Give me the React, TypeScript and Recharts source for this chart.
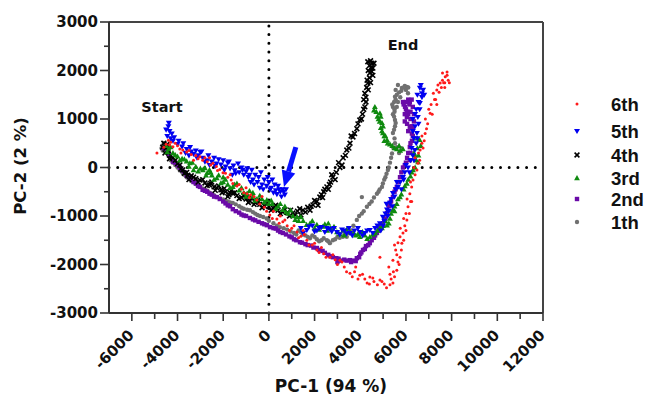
import React from 'react';
import { ScatterChart, Scatter, XAxis, YAxis, ReferenceLine, ReferenceDot } from 'recharts';

type P = [number, number];

// ---- tick values ----
const xTicks = [-6000, -5000, -4000, -3000, -2000, -1000, 0, 1000, 2000, 3000, 4000, 5000, 6000, 7000, 8000, 9000, 10000, 11000, 12000];
const xTickLabels = [-6000, -4000, -2000, 0, 2000, 4000, 6000, 8000, 10000, 12000];
const yTicks = [-3000, -2500, -2000, -1500, -1000, -500, 0, 500, 1000, 1500, 2000, 2500, 3000];
const yTickLabels = [-3000, -2000, -1000, 0, 1000, 2000, 3000];

// ---- series (PC-1, PC-2) ----
const s6th: P[] = [
  [-4900, 300], [-4500, 480], [-4400, 560], [-4300, 520], [-4200, 430], [-4000, 450], [-3900, 380], [-3770, 360],
  [-3600, 320], [-3400, 270], [-3200, 250], [-3020, 220], [-2900, 150], [-2700, 120], [-2450, 90], [-2300, 20],
  [-2150, -40], [-2010, -110], [-1800, -200], [-1580, -330], [-1400, -380], [-1200, -450], [-960, -540], [-800, -560],
  [-530, -670], [-400, -750], [-200, -820], [40, -980], [200, -900], [350, -1060], [610, -1120], [800, -1200],
  [1000, -1250], [1230, -1330], [1400, -1420], [1660, -1500], [1900, -1600], [2100, -1700], [2400, -1780], [2670, -1850],
  [2900, -1900], [3110, -1910], [3300, -2050], [3550, -2180], [3750, -2150], [3980, -2220], [4200, -2300], [4420, -2260],
  [4600, -2350], [4860, -2320], [5050, -2400], [5300, -2420], [5430, -2380], [5500, -2250], [5600, -2120], [5650, -1950],
  [5740, -1850], [5800, -1700], [5820, -1560], [5870, -1350], [5950, -1200], [6040, -1080], [6090, -810], [6000, -950],
  [6170, -540], [6250, -400], [6310, -260], [6480, -50], [6530, 90], [6620, 360], [6700, 500], [6840, 700],
  [6950, 900], [7060, 1120], [7100, 1300], [7200, 1530], [7350, 1600], [7500, 1740], [7600, 1800], [7720, 1870],
  [7800, 1970], [7650, 1750], [7400, 1700], [4860, -1850], [5430, -1910], [5740, -1430], [5300, -2200], [5550, -1700],
  [-3300, 150], [-2600, 200], [-1700, -150], [-1000, -420], [-300, -600], [500, -1000], [1500, -1300], [2300, -1650],
  [3800, -2050], [4400, -2400], [6200, -700], [6400, 200], [6800, 550], [7300, 1400], [7700, 1650],
  [-4600, 420], [-4350, 470], [-4100, 500], [-3850, 300], [-3500, 350], [-3100, 180], [-2800, 200], [-2550, 50],
  [-2250, -60], [-1900, -120], [-1650, -260], [-1300, -350], [-1100, -520], [-850, -620], [-650, -600], [-100, -900],
  [150, -1050], [450, -1150], [700, -1080], [900, -1300], [1100, -1200], [1300, -1450], [1550, -1380], [1750, -1600],
  [2000, -1560], [2200, -1750], [2500, -1850], [2800, -1800], [3000, -2000], [3200, -1950], [3400, -2150], [3650, -2250],
  [3900, -2300], [4100, -2200], [4300, -2380], [4550, -2280], [4750, -2420], [4950, -2350], [5150, -2480], [5350, -2300],
  [5250, -2050], [5450, -2150], [5600, -1800], [5700, -2000], [5500, -1600], [5650, -1550], [5900, -1500], [5750, -1250],
  [6000, -1300], [5900, -1050], [6150, -950], [6050, -650], [6250, -700], [6200, -300], [6400, -150], [6350, 0],
  [6600, 150], [6550, 300], [6750, 400], [6700, 650], [6900, 800], [6850, 1000], [7000, 1200], [7150, 1100],
  [7250, 1400], [7350, 1300], [7450, 1550], [7550, 1650], [7700, 1750], [7850, 1800], [7800, 1900], [7600, 1950],
  [7900, 1750],
];

const s5th: P[] = [
  [-4400, 850], [-4350, 750], [-4450, 650], [-4300, 600], [-4200, 550], [-4000, 480], [-3800, 430], [-3600, 380],
  [-3400, 330], [-3300, 280], [-3100, 250], [-2900, 200], [-2700, 150], [-2500, 120], [-2300, 80], [-2100, 60],
  [-1900, 20], [-1700, -20], [-1500, -60], [-1300, -100], [-1100, -150], [-900, -200], [-700, -250], [-500, -300],
  [-300, -350], [-100, -380], [100, -420], [300, -470], [500, -500], [700, -560],
  [-3500, 250], [-3000, 320], [-2600, 50], [-2200, 170], [-1800, 100], [-1600, -150], [-1200, 0], [-1000, -80],
  [-800, -300], [-600, -150], [-400, -420], [-200, -250], [0, -300], [200, -520], [400, -380], [600, -450],
  [1400, -1250], [1660, -1290], [1900, -1200], [2100, -1300], [2300, -1230], [2540, -1250], [2750, -1320], [2980, -1330],
  [3200, -1280], [3400, -1360], [3550, -1350], [3750, -1300], [3980, -1330], [4200, -1350], [4420, -1290], [4650, -1250],
  [4860, -1150], [4990, -1020], [5100, -950], [5170, -870], [5300, -730], [5350, -650], [5430, -530], [5550, -450],
  [5650, -400], [5750, -300], [5870, -200], [5950, -100], [6090, 0], [6200, 150], [6300, 250], [6390, 360],
  [6450, 500], [6480, 710], [6400, 850], [6520, 1040], [6450, 1200], [6610, 1330], [6700, 1450], [6700, 1530],
  [6610, 1640], [6550, 1350], [6350, 600], [6300, 1000], [5000, -1200], [5250, -900],
  [-4500, 780], [-4380, 920], [-4250, 700], [-4150, 620], [-3950, 550], [-3750, 500], [-3650, 300], [-3450, 420],
  [-3200, 350], [-3150, 200], [-2950, 330], [-2800, 120], [-2650, 250], [-2400, 200], [-2350, 30], [-2000, 150],
  [-1950, -50], [-1750, 120], [-1550, 40], [-1450, -120], [-1350, 80], [-1150, -50], [-950, -20], [-850, -150],
  [-750, -50], [-650, -350], [-450, -200], [-350, -100], [-250, -450], [-50, -200], [50, -450], [150, -250],
  [250, -350], [350, -550], [450, -450], [550, -600], [650, -500], [750, -450],
  [1500, -1350], [1750, -1220], [2000, -1320], [2200, -1250], [2450, -1330], [2650, -1270], [2850, -1250], [3100, -1380],
  [3300, -1300], [3500, -1250], [3650, -1400], [3900, -1250], [4100, -1400], [4300, -1300], [4550, -1350], [4750, -1200],
  [4900, -1300], [5050, -1100], [5200, -1000], [5150, -750], [5400, -800], [5500, -600], [5600, -300], [5800, -450],
  [5900, -250], [6000, 50], [6150, -100], [6250, 400], [6350, 150], [6500, 600], [6300, 750], [6550, 900],
  [6400, 1100], [6600, 1200], [6500, 1500], [6750, 1600], [6650, 1700], [6800, 1500],
];

const s4th: P[] = [
  [-4600, 500], [-4500, 400], [-4550, 300], [-4400, 350], [-4300, 250], [-4100, 150], [-3900, 50], [-3770, -50],
  [-3600, -100], [-3400, -170], [-3200, -230], [-3020, -260], [-2800, -320], [-2600, -360], [-2400, -400], [-2280, -420],
  [-2100, -460], [-1900, -500], [-1700, -520], [-1580, -530], [-1400, -580], [-1200, -620], [-1000, -650], [-830, -690],
  [-600, -720], [-400, -760], [-200, -790], [0, -810], [200, -840], [400, -880], [610, -920], [800, -930],
  [1050, -940], [1250, -900], [1490, -880], [1700, -820], [1930, -770], [2100, -700], [2230, -610], [2400, -500],
  [2540, -400], [2700, -300], [2800, -200], [2950, -100], [3110, 0], [3250, 200], [3410, 360], [3550, 500],
  [3680, 630], [3850, 800], [3980, 980], [4100, 1100], [4200, 1250], [4150, 1400], [4200, 1530], [4280, 1650],
  [4330, 1740], [4400, 1850], [4420, 1950], [4480, 2050], [4510, 2150], [4330, 2180], [4400, 2100], [4550, 1900],
  [-3500, -250], [-2500, -300], [-1800, -600], [-1000, -550], [-500, -680], [300, -780], [900, -1000], [1400, -980],
  [1800, -880], [2300, -560], [2600, -450],
  [-4650, 420], [-4450, 480], [-4350, 180], [-4200, 200], [-4000, 80], [-3850, -30], [-3700, -120], [-3550, -160],
  [-3300, -200], [-3100, -300], [-2900, -250], [-2700, -370], [-2550, -330], [-2350, -470], [-2200, -380], [-2050, -520],
  [-1950, -430], [-1750, -560], [-1650, -470], [-1500, -520], [-1300, -640], [-1100, -580], [-900, -720], [-750, -630],
  [-650, -760], [-450, -700], [-300, -830], [-100, -740], [100, -880], [250, -800], [500, -950], [700, -870],
  [950, -880], [1150, -980], [1350, -850], [1600, -920], [1850, -800], [2000, -680], [2150, -780], [2350, -620],
  [2450, -450], [2650, -350], [2750, -150], [2900, -250], [3050, 100], [3200, 50], [3350, 250], [3500, 400],
  [3600, 650], [3750, 700], [3900, 900], [4050, 1000], [4150, 1200], [4250, 1350], [4250, 1450], [4350, 1600],
  [4300, 1800], [4450, 1750], [4350, 2000], [4550, 2050], [4450, 2200], [4600, 2150], [4500, 1980],
];

const s3rd: P[] = [
  [-4500, 450], [-4400, 380], [-4200, 300], [-4000, 230], [-3800, 180], [-3600, 130], [-3460, 90], [-3200, 20],
  [-3000, -20], [-2890, -50], [-2700, -110], [-2500, -160], [-2280, -220], [-2000, -300], [-1800, -350], [-1580, -400],
  [-1300, -470], [-1100, -520], [-960, -540], [-700, -600], [-530, -650], [-300, -650], [-90, -670], [150, -750],
  [400, -800], [610, -870], [850, -950], [1050, -1000], [1230, -1020], [1500, -1100], [1800, -1150], [2100, -1180],
  [2360, -1220], [2700, -1250], [2980, -1330], [3250, -1300], [3550, -1330], [3800, -1400], [3980, -1430], [4200, -1400],
  [4420, -1430], [4650, -1350], [4860, -1250], [5000, -1200], [5170, -1190], [5300, -1050], [5430, -870], [5600, -750],
  [5740, -610], [5900, -450], [6040, -330], [6200, -180], [6310, -50], [6530, 110], [6400, 250], [6500, 400],
  [6600, 570], [6350, 300],
  [4640, 1250], [4700, 1150], [4860, 1120], [4800, 1000], [4950, 920], [4900, 820], [4990, 710], [5050, 650],
  [5170, 570], [5300, 480], [5500, 400], [5700, 450], [5870, 380],
  [-3300, -50], [-2600, -50], [-2000, -200], [-1400, -330], [-700, -520], [0, -750], [700, -800], [1300, -1100],
  [2000, -1250], [2600, -1150], [3300, -1400], [4100, -1330], [5100, -1100], [5500, -900],
  [-4450, 320], [-4300, 420], [-4100, 260], [-3900, 150], [-3700, 170], [-3500, 20], [-3350, 100], [-3100, -80],
  [-2800, -10], [-2750, -160], [-2550, -100], [-2400, -250], [-2200, -160], [-2100, -320], [-1900, -250], [-1700, -420],
  [-1500, -350], [-1200, -420], [-1000, -600], [-850, -480], [-600, -680], [-400, -580], [-200, -720], [100, -680],
  [300, -850], [500, -750], [750, -920], [950, -880], [1150, -1080], [1400, -1020], [1650, -1180], [1900, -1100],
  [2200, -1280], [2450, -1170], [2550, -1300], [2850, -1220], [3100, -1370], [3400, -1280], [3700, -1350], [3900, -1370],
  [4300, -1470], [4550, -1380], [4750, -1300], [4950, -1250], [5250, -1150], [5350, -950], [5500, -800], [5650, -650],
  [5800, -550], [5950, -380], [6100, -250], [6250, -100], [6400, 0], [6550, 250], [6450, 150], [6650, 450],
  [6500, 600],
  [4600, 1180], [4750, 1050], [4850, 950], [4900, 1050], [5000, 850], [4950, 750], [5100, 650], [5050, 550],
  [5200, 500], [5400, 450], [5600, 380], [5750, 350],
];

const s2nd: P[] = [
  [-4500, 450], [-4400, 300], [-4300, 200], [-4100, 100], [-3900, 0], [-3700, -100], [-3500, -200], [-3300, -300],
  [-3020, -400], [-2800, -480], [-2500, -560], [-2280, -610], [-2000, -700], [-1800, -780], [-1580, -860], [-1300, -930],
  [-1100, -990], [-830, -1040], [-600, -1090], [-300, -1150], [-90, -1190], [200, -1250], [400, -1300], [610, -1350],
  [900, -1420], [1100, -1480], [1360, -1540], [1600, -1580], [1850, -1610], [2100, -1660], [2350, -1720], [2600, -1800],
  [2800, -1850], [3050, -1880], [3300, -1900], [3550, -1910], [3700, -1920], [3850, -1870], [4000, -1780], [4120, -1700],
  [4250, -1620], [4420, -1560], [4600, -1450], [4730, -1350], [4850, -1250], [4990, -1150], [5100, -1050], [5170, -940],
  [5300, -730], [5430, -610], [5500, -500], [5600, -400], [5740, -200], [5870, 0], [6000, 100], [6170, 150],
  [6100, 300], [6170, 420], [6260, 550], [6260, 700], [6170, 840], [6040, 1040], [5960, 1250], [5870, 1350],
  [6170, 1350], [6000, 1200], [6100, 1100], [6200, 1000], [5950, 1100], [6300, 1250], [6050, 900], [6150, 1300],
  [6300, 800], [3000, -1950],
  [-4600, 400], [-4450, 350], [-4350, 250], [-4200, 120], [-4000, 50], [-3800, -60], [-3600, -170], [-3400, -220],
  [-3200, -330], [-3100, -380], [-2900, -460], [-2700, -500], [-2600, -540], [-2400, -600], [-2150, -650], [-1900, -740],
  [-1700, -800], [-1450, -900], [-1200, -970], [-1000, -1000], [-700, -1070], [-450, -1120], [-200, -1170], [50, -1230],
  [300, -1260], [500, -1330], [750, -1380], [1000, -1440], [1200, -1500], [1450, -1550], [1700, -1600], [1950, -1650],
  [2200, -1700], [2450, -1760], [2700, -1830], [2950, -1870], [3150, -1920], [3400, -1920], [3600, -1950], [3800, -1930],
  [3950, -1850], [4050, -1750], [4200, -1680], [4350, -1600], [4500, -1500], [4650, -1400], [4800, -1300], [4900, -1200],
  [5050, -1100], [5250, -800], [5350, -700], [5550, -450], [5650, -300], [5800, -100], [5950, 50], [6050, 200],
  [6200, 300], [6200, 500], [6300, 650], [6100, 750], [6250, 850], [5950, 950], [6050, 1150], [6200, 1150],
  [5900, 1300], [6100, 1400], [6250, 1400], [6000, 1350], [6350, 1100], [6350, 950],
];

const s1th: P[] = [
  [-4700, 400], [-4600, 500], [-4500, 350], [-4400, 250], [-4340, 210], [-4200, 100], [-4000, 0], [-3770, -120],
  [-3600, -200], [-3400, -280], [-3200, -340], [-3020, -400], [-2800, -460], [-2500, -540], [-2280, -610], [-2000, -660],
  [-1800, -700], [-1580, -730], [-1300, -800], [-1100, -850], [-830, -880], [-600, -950], [-390, -1000], [-100, -1050],
  [200, -1150], [480, -1230], [800, -1280], [1100, -1350], [1300, -1300], [1490, -1380], [1700, -1430], [1900, -1400],
  [2100, -1480], [2300, -1500], [2540, -1500], [2670, -1560], [2900, -1480], [3100, -1450], [3240, -1430], [3410, -1430],
  [3600, -1300], [3850, -1080], [4070, -950], [4290, -810], [4500, -700], [4730, -540], [4850, -450], [4990, -330],
  [5100, -200], [5210, -50], [5300, 100], [5390, 290], [5520, 500], [5600, 420], [5430, 710], [5520, 850],
  [5520, 980], [5430, 1100], [5430, 1250], [5480, 1350], [5520, 1460], [5700, 1550], [5820, 1640], [5950, 1680],
  [6040, 1660], [6090, 1530], [5600, 1250], [5500, 1150], [5750, 1450], [4070, -610], [5700, 300], [5800, 400],
  [-4650, 350], [-4550, 430], [-4450, 300], [-4300, 150], [-4100, 50], [-3900, -60], [-3700, -150], [-3500, -240],
  [-3300, -300], [-3100, -370], [-2900, -430], [-2700, -480], [-2600, -520], [-2400, -570], [-2150, -640], [-1900, -680],
  [-1700, -720], [-1450, -760], [-1200, -830], [-950, -870], [-700, -920], [-500, -980], [-250, -1020], [0, -1100],
  [350, -1200], [650, -1250], [950, -1320], [1200, -1380], [1400, -1330], [1600, -1400], [1800, -1460], [2000, -1430],
  [2200, -1520], [2400, -1460], [2600, -1520], [2800, -1500], [3000, -1430], [3300, -1380], [3500, -1350], [3700, -1200],
  [3950, -1000], [4150, -900], [4400, -750], [4600, -620], [4800, -500], [4950, -400], [5050, -250], [5150, -130],
  [5250, 0], [5350, 200], [5450, 400], [5500, 600], [5480, 780], [5550, 920], [5480, 1050], [5500, 1200],
  [5400, 1300], [5550, 1400], [5600, 1500], [5800, 1580], [5900, 1650], [6000, 1600], [6100, 1650], [5650, 1350],
  [5550, 1600], [5650, 1700],
];

const seriesNames = ['6th', '5th', '4th', '3rd', '2nd', '1th'];
const seriesData = [s6th, s5th, s4th, s3rd, s2nd, s1th];
const seriesColors = ['#ff1a1a', '#0000f0', '#000000', '#0f8a0f', '#6a0aa8', '#707070'];
const seriesMarkers = ['dot', 'triDown', 'cross', 'triUp', 'square', 'circle'];
// draw order (back to front)
const drawOrder = [5, 4, 2, 3, 1, 0];

const FONT = '"DejaVu Sans", "Liberation Sans", sans-serif';
const LFONT = '"Liberation Sans", Arial, sans-serif';
const AX = '#333333';

const toPts = (arr: P[]) => arr.map(([x, y]) => ({ x, y }));

function Marker({ kind, cx, cy, color }: { kind: string; cx: number; cy: number; color: string }) {
  switch (kind) {
    case 'dot':
      return <circle cx={cx} cy={cy} r={1.5} fill={color} />;
    case 'triDown':
      return <polygon points={`${cx - 3},${cy - 2.1} ${cx + 3},${cy - 2.1} ${cx},${cy + 3}`} fill={color} />;
    case 'triUp':
      return <polygon points={`${cx - 2.9},${cy + 2.2} ${cx + 2.9},${cy + 2.2} ${cx},${cy - 2.9}`} fill={color} />;
    case 'square':
      return <rect x={cx - 2.2} y={cy - 2.2} width={4.4} height={4.4} fill={color} />;
    case 'cross':
      return (
        <g stroke={color} strokeWidth={1.6}>
          <line x1={cx - 2.4} y1={cy - 2.4} x2={cx + 2.4} y2={cy + 2.4} />
          <line x1={cx - 2.4} y1={cy + 2.4} x2={cx + 2.4} y2={cy - 2.4} />
        </g>
      );
    default:
      return <circle cx={cx} cy={cy} r={2.2} fill={color} />;
  }
}

const XTick = (props: any) => {
  const { x, y, payload } = props;
  const v = payload.value as number;
  const major = xTickLabels.includes(v);
  return (
    <g>
      <line x1={x} x2={x} y1={y} y2={y + (major ? 8 : 6)} stroke={AX} strokeWidth={1.6} />
      {major && (
        <text
          x={x + 3}
          y={y + 23}
          transform={`rotate(-45 ${x + 3} ${y + 23})`}
          textAnchor="end"
          fontFamily={FONT}
          fontWeight="bold"
          fontSize={15}
          fill="#111"
        >
          {v}
        </text>
      )}
    </g>
  );
};

const YTick = (props: any) => {
  const { x, y, payload } = props;
  const v = payload.value as number;
  const major = yTickLabels.includes(v);
  return (
    <g>
      <line x1={x - (major ? 9 : 5)} x2={x} y1={y} y2={y} stroke={AX} strokeWidth={1.6} />
      {major && (
        <text x={x - 11} y={y} dy="0.36em" textAnchor="end" fontFamily={FONT} fontWeight="bold" fontSize={15} fill="#111">
          {v}
        </text>
      )}
    </g>
  );
};

const Arrow = (props: any) => {
  const { x1, y1, x2, y2 } = props;
  const dx = x2 - x1;
  const dy = y2 - y1;
  const L = Math.sqrt(dx * dx + dy * dy) || 1;
  const ux = dx / L;
  const uy = dy / L;
  const head = 16;
  const hw = 7;
  const bx = x2 - ux * head;
  const by = y2 - uy * head;
  return (
    <g>
      <line x1={x1} y1={y1} x2={bx} y2={by} stroke="#0a10ff" strokeWidth={5} />
      <polygon
        points={`${x2},${y2} ${bx - uy * hw},${by + ux * hw} ${bx + uy * hw},${by - ux * hw}`}
        fill="#0a10ff"
      />
    </g>
  );
};

const textShape = (txt: string) => (p: any) => (
  <text x={p.cx} y={p.cy} dy="0.36em" textAnchor="middle" fontFamily={FONT} fontWeight="bold" fontSize={14.5} fill="#111">
    {txt}
  </text>
);

const legendTop = [104, 131, 155, 178, 199, 222];

export default function App() {
  return (
    <div style={{ position: 'absolute', left: 0, top: 0, width: 645, height: 395, background: '#fff' }}>
      <ScatterChart width={645} height={395} margin={{ top: 22, right: 102, bottom: 0, left: 0 }}>
        <XAxis
          type="number"
          dataKey="x"
          domain={[-7000, 12000]}
          ticks={xTicks}
          interval={0}
          height={82}
          tickSize={0}
          tickMargin={0}
          tickLine={false}
          tick={<XTick />}
          axisLine={{ stroke: AX, strokeWidth: 2 }}
          allowDataOverflow
        />
        <YAxis
          type="number"
          dataKey="y"
          domain={[-3000, 3000]}
          ticks={yTicks}
          interval={0}
          width={109}
          tickSize={0}
          tickMargin={0}
          tickLine={false}
          tick={<YTick />}
          axisLine={{ stroke: AX, strokeWidth: 2 }}
          allowDataOverflow
        />
        <ReferenceLine y={3000} stroke="#444" strokeWidth={2} />
        <ReferenceLine x={12000} stroke="#444" strokeWidth={2} />
        <ReferenceLine y={0} stroke="#000" strokeWidth={3} strokeDasharray="0 8.7" strokeLinecap="round" />
        <ReferenceLine x={0} stroke="#000" strokeWidth={3} strokeDasharray="0 8.7" strokeLinecap="round" />
        {drawOrder.map((i) => (
          <Scatter
            key={seriesNames[i]}
            name={seriesNames[i]}
            data={toPts(seriesData[i])}
            isAnimationActive={false}
            shape={(p: any) => <Marker kind={seriesMarkers[i]} cx={p.cx} cy={p.cy} color={seriesColors[i]} />}
          />
        ))}
        <ReferenceLine segment={[{ x: 1180, y: 420 }, { x: 660, y: -400 }]} shape={Arrow} />
        <ReferenceDot x={-4680} y={1250} r={0} shape={textShape('Start')} />
        <ReferenceDot x={5870} y={2530} r={0} shape={textShape('End')} />
      </ScatterChart>
      <svg width={645} height={395} style={{ position: 'absolute', left: 0, top: 0, pointerEvents: 'none' }}>
        <text x={331} y={392} textAnchor="middle" fontFamily={FONT} fontWeight="bold" fontSize={17} fill="#111">
          {'PC-1  (94 %)'}
        </text>
        <text
          x={20}
          y={166}
          dy="0.36em"
          textAnchor="middle"
          transform="rotate(-90 20 166)"
          fontFamily={FONT}
          fontWeight="bold"
          fontSize={16.5}
          fill="#111"
        >
          {'PC-2 (2 %)'}
        </text>
        {seriesNames.map((n, i) => (
          <g key={n}>
            <Marker kind={seriesMarkers[i]} cx={577} cy={legendTop[i]} color={seriesColors[i]} />
            <text x={611} y={legendTop[i]} dy="0.36em" fontFamily={LFONT} fontWeight="bold" fontSize={18.5} fill="#111">
              {n}
            </text>
          </g>
        ))}
      </svg>
    </div>
  );
}
